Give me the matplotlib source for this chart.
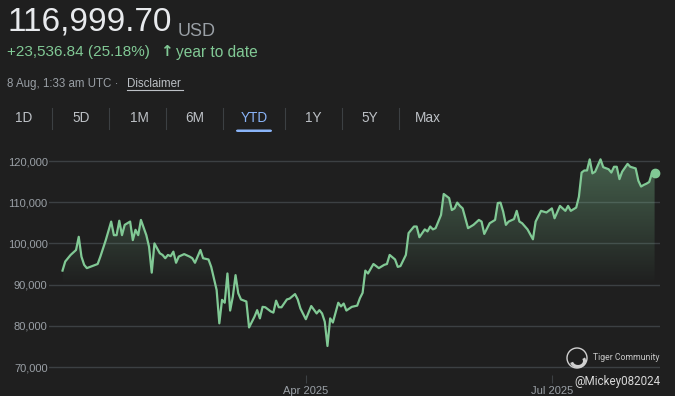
import matplotlib
matplotlib.use('Agg')
import matplotlib.pyplot as plt
import matplotlib.dates as mdates
from matplotlib.colors import LinearSegmentedColormap
from matplotlib.patches import PathPatch, Ellipse, Arc, FancyBboxPatch
import numpy as np
import pandas as pd

# price series (day 0 = 1 Jan 2025)
days = [0, 1, 3, 5, 6, 7, 8, 9, 11, 13, 14, 16, 18, 19, 20, 21, 22, 23, 25, 26,
        27, 28, 29, 31, 32, 33, 34, 36, 37, 38, 39, 40, 41, 42, 43, 45, 47, 48, 49, 51,
        52, 54, 55, 57, 58, 59, 60, 61, 62, 63, 64, 65, 66, 68, 69, 71, 72, 73, 74, 75,
        77, 78, 79, 80, 81, 83, 84, 86, 87, 88, 90, 92, 94, 95, 96, 97, 98, 99, 100, 102,
        103, 104, 105, 107, 109, 110, 111, 112, 113, 115, 117, 119, 120, 121, 123, 124, 125, 127, 128, 130,
        131, 132, 134, 135, 136, 137, 138, 140, 141, 143, 144, 145, 146, 147, 148, 150, 152, 154, 155, 156,
        158, 160, 161, 162, 163, 164, 165, 167, 168, 169, 170, 172, 174, 175, 177, 179, 181, 182, 184, 186,
        187, 188, 190, 191, 192, 193, 194, 195, 196, 197, 199, 200, 202, 203, 204, 205, 206, 207, 209, 210,
        212, 213, 214, 215, 216, 217, 218, 219]
prices = [93400, 95600, 97200, 98400, 101600, 96800, 94800, 94000, 94500, 95000,
          96800, 100800, 105300, 102000, 102000, 105500, 102000, 104500, 105300, 100800,
          103300, 102000, 105700, 102000, 99200, 92900, 100000, 97600, 97200, 96400,
          97200, 96900, 98000, 95300, 96800, 97400, 96800, 96400, 95300, 98400,
          96400, 96100, 94300, 88700, 80600, 86300, 85600, 92700, 83700, 87100,
          92300, 87900, 86400, 85900, 79600, 82200, 83800, 81800, 84600, 84500,
          83500, 83200, 86100, 84500, 84500, 86400, 86600, 87700, 86400, 84200,
          81600, 84800, 83000, 83800, 83000, 81000, 75100, 81800, 80800, 85600,
          84700, 85400, 83700, 84600, 84900, 86700, 88000, 93400, 92700, 95000,
          94000, 94800, 95000, 97200, 96100, 94300, 94500, 97200, 102500, 104100,
          104100, 101500, 103400, 102900, 104100, 103400, 103700, 106900, 112000, 111000,
          108100, 108500, 109900, 109100, 108500, 103700, 104500, 105700, 105300, 102300,
          104900, 105700, 109800, 109900, 107700, 104500, 105300, 105900, 107900, 105300,
          104900, 103400, 101000, 105300, 107900, 107500, 108500, 106100, 109100, 107900,
          109100, 107900, 108700, 111300, 117200, 117700, 117700, 120400, 117000, 117400,
          120400, 118500, 118000, 117200, 118600, 118600, 115600, 117400, 119300, 118600,
          118200, 115200, 113800, 114200, 114500, 114900, 117000, 116999.70]

y_ticks = [70000, 80000, 90000, 100000, 110000, 120000]
x_tick_dates = ['2025-04-01', '2025-07-01']
x_tick_labels = ['Apr 2025', 'Jul 2025']
tabs = ['1D', '5D', '1M', '6M', 'YTD', '1Y', '5Y', 'Max']
active_tab = 'YTD'

BG = '#1f1f1f'
GREEN = '#81c995'
GREY = '#9aa0a6'
GRID = '#3c4043'
BLUE = '#8ab4f8'
FONT = ['Liberation Sans', 'DejaVu Sans']

plt.rcParams['font.family'] = FONT

W, H = 675, 396
fig = plt.figure(figsize=(W / 100, H / 100), dpi=100, facecolor=BG)


def fx(x):
    return x / W


def fy(y):
    return 1 - y / H


# header
fig.text(fx(7), fy(22), '116,999.70', fontsize=24, color='#e8eaed', va='center', ha='left')
fig.text(fx(178), fy(31), 'USD', fontsize=13, color=GREY, va='center', ha='left')
fig.text(fx(7), fy(52), '+23,536.84 (25.18%)', fontsize=11, color=GREEN, va='center', ha='left')
fig.text(fx(160), fy(51), '\u2191', fontsize=11, color=GREEN, va='center', ha='left',
         family=['DejaVu Sans'], weight='bold')
fig.text(fx(176), fy(52), 'year to date', fontsize=11.2, color=GREEN, va='center', ha='left')
fig.text(fx(7), fy(84), '8 Aug, 1:33 am UTC \u00b7 ', fontsize=8.3, color=GREY, va='center', ha='left')
fig.text(fx(127), fy(84), 'Disclaimer', fontsize=8.3, color='#bdc1c6', va='center', ha='left')
fig.add_artist(plt.Line2D([fx(127), fx(183)], [fy(90), fy(90)], color='#bdc1c6', lw=0.8))

# range tabs
tab_x = [24, 81, 139, 195, 254, 313, 370, 428]
sep_x = [52, 109, 166, 223, 285, 342, 399]
for name, x in zip(tabs, tab_x):
    col = BLUE if name == active_tab else '#bdc1c6'
    fig.text(fx(x), fy(118), name, fontsize=9.8, color=col, va='center', ha='center')
for x in sep_x:
    fig.add_artist(plt.Line2D([fx(x), fx(x)], [fy(108), fy(129)], color=GRID, lw=0.8))
fig.add_artist(FancyBboxPatch((fx(236), fy(132)), fx(36), 2.5 / H,
                              boxstyle='round,pad=0,rounding_size=0.003',
                              transform=fig.transFigure, fc=BLUE, ec='none'))

# chart
ax = fig.add_axes([fx(49), fy(375), fx(660) - fx(49), (375 - 150) / H])
ax.set_facecolor(BG)
dates = pd.Timestamp('2025-01-01') + pd.to_timedelta(days, unit='D')
xnum = mdates.date2num(dates)
price_arr = np.array(prices, dtype=float)

base = 90000
poly = ax.fill_between(xnum, np.maximum(price_arr, base), base, color='none', lw=0)
clip = PathPatch(poly.get_paths()[0], transform=ax.transData, fc='none', ec='none')
ax.add_patch(clip)
cmap = LinearSegmentedColormap.from_list(
    'g', [(0.506, 0.788, 0.584, 0.0), (0.506, 0.788, 0.584, 0.4)])
grad = np.linspace(0, 1, 256).reshape(-1, 1)
img = ax.imshow(grad, cmap=cmap, origin='lower', aspect='auto',
                extent=[xnum[0], xnum[-1], base, 121000], zorder=1)
img.set_clip_path(clip)

ax.plot(xnum, price_arr, color=GREEN, lw=1.6, zorder=3, solid_joinstyle='round')
ax.plot(xnum[-1], price_arr[-1], 'o', color=GREEN, ms=6, zorder=4)

x0 = mdates.date2num(pd.Timestamp('2025-01-01')) - 5.0
x1 = mdates.date2num(pd.Timestamp('2025-01-01')) + 221.0
ax.set_xlim(x0, x1)
ax.set_ylim(68060, 122670)

ax.set_yticks(y_ticks)
ax.set_yticklabels([f'{v:,}' for v in y_ticks])
ax.tick_params(axis='y', length=0, pad=1, labelsize=8, labelcolor=GREY)
ax.grid(axis='y', color=GRID, lw=1)
ax.set_axisbelow(True)

tick_nums = [mdates.date2num(pd.Timestamp(d)) for d in x_tick_dates]
ax.set_xticks(tick_nums)
ax.set_xticklabels(x_tick_labels)
ax.tick_params(axis='x', length=6, width=0.8, color=GRID, labelsize=8, labelcolor=GREY, pad=2)
for s in ax.spines.values():
    s.set_visible(False)

# watermark
fig.text(fx(574), fy(381), '@Mickey082024', fontsize=8.4, color='#d8d8d8', va='center', ha='left',
         family=['Roboto', 'DejaVu Sans'])
fig.text(fx(593), fy(358), 'Tiger Community', fontsize=6.2, color='#c8c8c8', va='center', ha='left',
         family=['Roboto', 'DejaVu Sans'])
fig.add_artist(Ellipse((fx(577), fy(358)), 20 / W, 20 / H, transform=fig.transFigure,
                       fc='none', ec='#d0d0d0', lw=1))
fig.add_artist(Arc((fx(578), fy(361)), 13 / W, 11 / H, theta1=200, theta2=40,
                   transform=fig.transFigure, color='#d0d0d0', lw=2.2))

fig.savefig('out.png', dpi=100, facecolor=BG)
